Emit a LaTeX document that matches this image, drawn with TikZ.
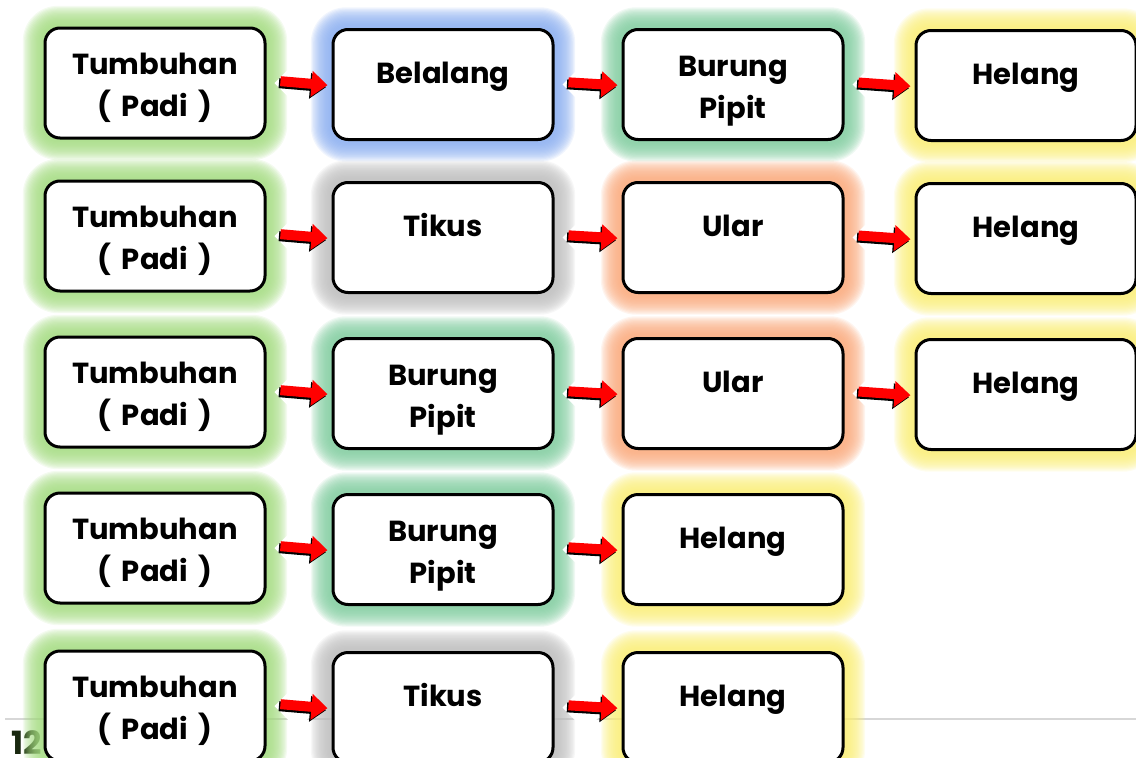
\documentclass[tikz,border=0pt]{standalone}
\usepackage{fontspec}
\setmainfont{Poppins}[WordSpace=1.7]
\usetikzlibrary{calc,arrows.meta}
\pgfdeclarelayer{bottomlayer}
\pgfdeclarelayer{glowlayer}
\pgfsetlayers{bottomlayer,glowlayer,main}
\definecolor{gGreen}{RGB}{165,220,130}
\definecolor{gBlue}{RGB}{140,175,240}
\definecolor{gTeal}{RGB}{130,205,160}
\definecolor{gYellow}{RGB}{250,238,120}
\definecolor{gGray}{RGB}{190,190,190}
\definecolor{gOrange}{RGB}{250,170,125}
\definecolor{pagenum}{RGB}{25,40,15}
\definecolor{rulegray}{RGB}{215,215,215}
\newcommand\twolines[2]{\begin{tabular}[t]{@{}c@{}}#1\\#2\end{tabular}}
\newcommand\glowbox[2]{%
  \begin{pgfonlayer}{glowlayer}
  \foreach \i in {1,...,16}{
    \pgfmathsetmacro\rr{16+\i*1.2}
    \pgfmathsetmacro\dd{\i*1.2+1.5}
    \fill[#2, opacity=0.12, rounded corners=\rr pt]
      ($(#1.north west)+(-\dd,-\dd)$) rectangle ($(#1.south east)+(\dd,\dd)$);
  }
  \end{pgfonlayer}}
\newcommand\linkarrow[2]{%
  \fill[white] ($(#1.east)+(8,0)$) -- ($(#1.east)+(31,-23)$) -- ($(#1.east)+(54,0)$) -- ($(#1.east)+(31,23)$) -- cycle;
  \draw[arrsh] ($(#1.east)+(0,-3)$) -- ($(#2.west)+(0,1)$);
  \draw[arr] ($(#1.east)+(0,-3)$) -- ($(#2.west)+(0,1)$);}
\tikzset{
  box/.style={draw=black, line width=3pt, fill=white, rounded corners=15pt,
    minimum width=220pt, minimum height=110pt, anchor=north west, inner sep=0pt},
  lbl/.style={font=\fontsize{29}{42}\selectfont\bfseries, anchor=base, inner sep=0pt},
  arr/.style={line width=10pt, red, -{Triangle[length=16pt,width=25pt]},
    shorten <=14pt, shorten >=4pt},
  arrsh/.style={arr, black, transform canvas={shift={(-1.5pt,-2pt)}}},
}
\begin{document}
\begin{tikzpicture}[x=1pt,y=-1pt]
\useasboundingbox (0,0) rectangle (1136,758);
\begin{pgfonlayer}{bottomlayer}
  \draw[rulegray, line width=1.5pt] (5,719) -- (1136,719);
  \node[anchor=base west, inner sep=0pt, text=pagenum, font=\fontsize{32}{36}\selectfont\bfseries] (pg) at (11,754) {12};
\end{pgfonlayer}
% row 1
\node[box] (b11) at (43.5,26.5) {};
\node[box] (b12) at (331.5,28) {};
\node[box] (b13) at (621.5,28) {};
\node[box] (b14) at (914.5,29) {};
% row 2
\node[box] (b21) at (43.5,179.5) {};
\node[box] (b22) at (331.5,181) {};
\node[box] (b23) at (621.5,181) {};
\node[box] (b24) at (914.5,182) {};
% row 3
\node[box] (b31) at (43.5,335.5) {};
\node[box] (b32) at (331.5,337) {};
\node[box] (b33) at (621.5,337) {};
\node[box] (b34) at (914.5,338) {};
% row 4
\node[box] (b41) at (43.5,491.5) {};
\node[box] (b42) at (331.5,493) {};
\node[box] (b43) at (621.5,493) {};
% row 5
\node[box] (b51) at (43.5,649.5) {};
\node[box] (b52) at (331.5,651) {};
\node[box] (b53) at (621.5,651) {};
% glows
\glowbox{b11}{gGreen}\glowbox{b12}{gBlue}\glowbox{b13}{gTeal}\glowbox{b14}{gYellow}
\glowbox{b21}{gGreen}\glowbox{b22}{gGray}\glowbox{b23}{gOrange}\glowbox{b24}{gYellow}
\glowbox{b31}{gGreen}\glowbox{b32}{gTeal}\glowbox{b33}{gOrange}\glowbox{b34}{gYellow}
\glowbox{b41}{gGreen}\glowbox{b42}{gTeal}\glowbox{b43}{gYellow}
\glowbox{b51}{gGreen}\glowbox{b52}{gGray}\glowbox{b53}{gYellow}
% labels
\node[lbl] (t11) at ($(b11.north)+(0,48)$) {\twolines{Tumbuhan}{( Padi )}};
\node[lbl] (t12) at ($(b12.north)+(0,55)$) {Belalang};
\node[lbl] (t13) at ($(b13.north)+(0,48)$) {\twolines{Burung}{Pipit}};
\node[lbl] (t14) at ($(b14.north)+(0,55)$) {Helang};
\node[lbl] (t21) at ($(b21.north)+(0,48)$) {\twolines{Tumbuhan}{( Padi )}};
\node[lbl] (t22) at ($(b22.north)+(0,55)$) {Tikus};
\node[lbl] (t23) at ($(b23.north)+(0,55)$) {Ular};
\node[lbl] (t24) at ($(b24.north)+(0,55)$) {Helang};
\node[lbl] (t31) at ($(b31.north)+(0,48)$) {\twolines{Tumbuhan}{( Padi )}};
\node[lbl] (t32) at ($(b32.north)+(0,48)$) {\twolines{Burung}{Pipit}};
\node[lbl] (t33) at ($(b33.north)+(0,55)$) {Ular};
\node[lbl] (t34) at ($(b34.north)+(0,55)$) {Helang};
\node[lbl] (t41) at ($(b41.north)+(0,48)$) {\twolines{Tumbuhan}{( Padi )}};
\node[lbl] (t42) at ($(b42.north)+(0,48)$) {\twolines{Burung}{Pipit}};
\node[lbl] (t43) at ($(b43.north)+(0,55)$) {Helang};
\node[lbl] (t51) at ($(b51.north)+(0,48)$) {\twolines{Tumbuhan}{( Padi )}};
\node[lbl] (t52) at ($(b52.north)+(0,55)$) {Tikus};
\node[lbl] (t53) at ($(b53.north)+(0,55)$) {Helang};
% arrows
\linkarrow{b11}{b12}\linkarrow{b12}{b13}\linkarrow{b13}{b14}
\linkarrow{b21}{b22}\linkarrow{b22}{b23}\linkarrow{b23}{b24}
\linkarrow{b31}{b32}\linkarrow{b32}{b33}\linkarrow{b33}{b34}
\linkarrow{b41}{b42}\linkarrow{b42}{b43}
\linkarrow{b51}{b52}\linkarrow{b52}{b53}
\end{tikzpicture}
\end{document}
